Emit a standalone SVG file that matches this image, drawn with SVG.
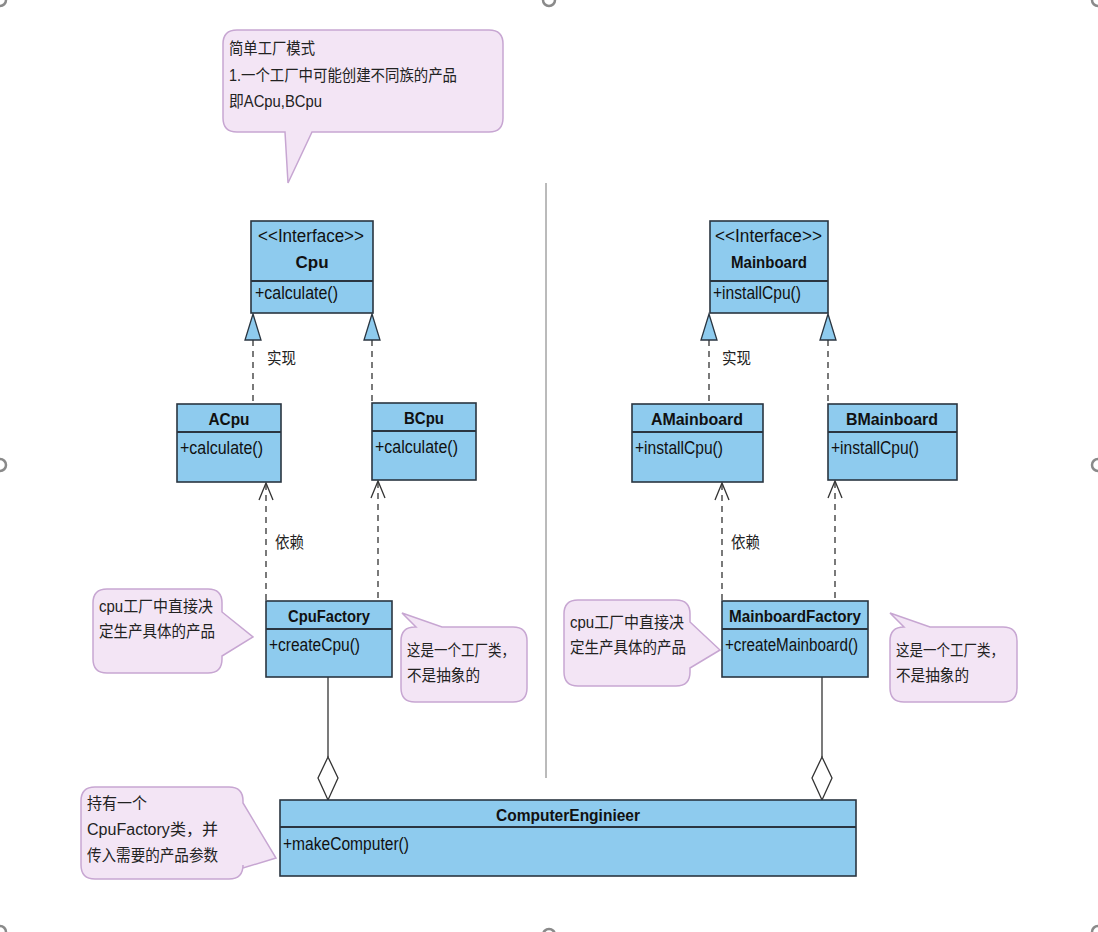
<svg xmlns="http://www.w3.org/2000/svg" width="1098" height="932" viewBox="0 0 1098 932">
<style>
.box{fill:#8ecbee;stroke:#2a3540;stroke-width:1.6}
.sep{stroke:#2a3540;stroke-width:2.2}
.t{font-family:"Liberation Sans","Noto Sans CJK SC",sans-serif;font-size:17.5px;fill:#111}
.b{font-weight:bold;text-anchor:middle;font-size:17px}
.c{font-family:"Liberation Sans","Noto Sans CJK SC",sans-serif;font-size:16px;fill:#222}
.note{fill:#f3e5f5;stroke:#c7a6d2;stroke-width:1.5}
.dash{stroke:#333;stroke-width:1.3;stroke-dasharray:6 5;fill:none}
.solid{stroke:#333;stroke-width:1.3;fill:none}
.tri{fill:#8ecbee;stroke:#2a3540;stroke-width:1.3}
.open{stroke:#333;stroke-width:1.3;fill:none}
.dia{fill:#fff;stroke:#333;stroke-width:1.3}
.h{fill:#fff;stroke:#8a8a8a;stroke-width:2.5}
</style>
<rect width="1098" height="932" fill="#fff"/>
<g id="handles">
<circle class="h" cx="0" cy="0" r="6"/><circle class="h" cx="549" cy="0" r="6"/><circle class="h" cx="1098" cy="0" r="6"/>
<circle class="h" cx="0" cy="465" r="6"/><circle class="h" cx="1098" cy="465" r="6"/>
<circle class="h" cx="0" cy="932" r="6"/><circle class="h" cx="549" cy="935" r="6"/><circle class="h" cx="1098" cy="932" r="6"/>
</g>
<line x1="546" y1="183" x2="546" y2="778" stroke="#777" stroke-width="1"/>
<g id="connectors">
<line class="dash" x1="253" y1="340" x2="253" y2="404"/>
<polygon class="tri" points="253,314 261,340 245,340"/>
<line class="dash" x1="372" y1="340" x2="372" y2="403"/>
<polygon class="tri" points="372,314 380,340 364,340"/>
<line class="dash" x1="709" y1="340" x2="709" y2="404"/>
<polygon class="tri" points="709,314 717,340 701,340"/>
<line class="dash" x1="828" y1="340" x2="828" y2="404"/>
<polygon class="tri" points="828,314 836,340 820,340"/>
<line class="dash" x1="266" y1="484" x2="266" y2="601"/>
<polyline class="open" points="259,500 266,483 273,500"/>
<line class="dash" x1="378" y1="482" x2="378" y2="601"/>
<polyline class="open" points="371,498 378,481 385,498"/>
<line class="dash" x1="722" y1="484" x2="722" y2="601"/>
<polyline class="open" points="715,500 722,483 729,500"/>
<line class="dash" x1="835" y1="482" x2="835" y2="601"/>
<polyline class="open" points="828,498 835,481 842,498"/>
<line class="solid" x1="328" y1="677" x2="328" y2="757"/>
<polygon class="dia" points="328,757 338,778 328,800 318,778"/>
<line class="solid" x1="822" y1="677" x2="822" y2="757"/>
<polygon class="dia" points="822,757 832,778 822,800 812,778"/>
<text class="c" x="267" y="364" textLength="29" lengthAdjust="spacingAndGlyphs">实现</text>
<text class="c" x="275" y="548" textLength="29" lengthAdjust="spacingAndGlyphs">依赖</text>
<text class="c" x="722" y="364" textLength="29" lengthAdjust="spacingAndGlyphs">实现</text>
<text class="c" x="731" y="548" textLength="29" lengthAdjust="spacingAndGlyphs">依赖</text>
</g>
<g id="note-top">
<path class="note" d="M237,30 H489 Q503,30 503,44 V118 Q503,132 489,132 H312 L288,183 L285,132 H237 Q223,132 223,118 V44 Q223,30 237,30 Z"/>
<text class="c" x="229" y="54" textLength="86" lengthAdjust="spacingAndGlyphs">简单工厂模式</text>
<text class="c" x="229" y="81" textLength="228" lengthAdjust="spacingAndGlyphs">1.一个工厂中可能创建不同族的产品</text>
<text class="c" x="229" y="107" textLength="93" lengthAdjust="spacingAndGlyphs">即ACpu,BCpu</text>
</g>
<g id="Cpu">
<rect class="box" x="251" y="221" width="122" height="92"/>
<line class="sep" x1="251" y1="281" x2="373" y2="281"/>
<text class="t" x="258" y="242" textLength="106" lengthAdjust="spacingAndGlyphs">&lt;&lt;Interface&gt;&gt;</text>
<text class="t b" x="312" y="268">Cpu</text>
<text class="t" x="255" y="299" textLength="83" lengthAdjust="spacingAndGlyphs">+calculate()</text>
</g>
<g id="Mainboard">
<rect class="box" x="710" y="221" width="118" height="92"/>
<line class="sep" x1="710" y1="281" x2="828" y2="281"/>
<text class="t" x="715" y="242" textLength="107" lengthAdjust="spacingAndGlyphs">&lt;&lt;Interface&gt;&gt;</text>
<text class="t b" x="769" y="268" textLength="76" lengthAdjust="spacingAndGlyphs">Mainboard</text>
<text class="t" x="713" y="299" textLength="88" lengthAdjust="spacingAndGlyphs">+installCpu()</text>
</g>
<g id="ACpu">
<rect class="box" x="177" y="404" width="104" height="78"/>
<line class="sep" x1="177" y1="432" x2="281" y2="432"/>
<text class="t b" x="229" y="425" textLength="41" lengthAdjust="spacingAndGlyphs">ACpu</text>
<text class="t" x="180" y="454" textLength="83" lengthAdjust="spacingAndGlyphs">+calculate()</text>
</g>
<g id="BCpu">
<rect class="box" x="372" y="403" width="104" height="77"/>
<line class="sep" x1="372" y1="431" x2="476" y2="431"/>
<text class="t b" x="424" y="424" textLength="40" lengthAdjust="spacingAndGlyphs">BCpu</text>
<text class="t" x="375" y="453" textLength="83" lengthAdjust="spacingAndGlyphs">+calculate()</text>
</g>
<g id="AMainboard">
<rect class="box" x="632" y="404" width="131" height="78"/>
<line class="sep" x1="632" y1="432" x2="763" y2="432"/>
<text class="t b" x="697" y="425" textLength="92" lengthAdjust="spacingAndGlyphs">AMainboard</text>
<text class="t" x="635" y="454" textLength="88" lengthAdjust="spacingAndGlyphs">+installCpu()</text>
</g>
<g id="BMainboard">
<rect class="box" x="828" y="404" width="129" height="76"/>
<line class="sep" x1="828" y1="432" x2="957" y2="432"/>
<text class="t b" x="892" y="425" textLength="92" lengthAdjust="spacingAndGlyphs">BMainboard</text>
<text class="t" x="831" y="454" textLength="88" lengthAdjust="spacingAndGlyphs">+installCpu()</text>
</g>
<g id="CpuFactory">
<rect class="box" x="266" y="601" width="126" height="76"/>
<line class="sep" x1="266" y1="629" x2="392" y2="629"/>
<text class="t b" x="329" y="622" textLength="82" lengthAdjust="spacingAndGlyphs">CpuFactory</text>
<text class="t" x="269" y="651" textLength="91" lengthAdjust="spacingAndGlyphs">+createCpu()</text>
</g>
<g id="MainboardFactory">
<rect class="box" x="722" y="601" width="146" height="76"/>
<line class="sep" x1="722" y1="629" x2="868" y2="629"/>
<text class="t b" x="795" y="622" textLength="132" lengthAdjust="spacingAndGlyphs">MainboardFactory</text>
<text class="t" x="725" y="651" textLength="133" lengthAdjust="spacingAndGlyphs">+createMainboard()</text>
</g>
<g id="ComputerEnginieer">
<rect class="box" x="280" y="800" width="576" height="76"/>
<line class="sep" x1="280" y1="827" x2="856" y2="827"/>
<text class="t b" x="568" y="821" textLength="144" lengthAdjust="spacingAndGlyphs">ComputerEnginieer</text>
<text class="t" x="283" y="850" textLength="126" lengthAdjust="spacingAndGlyphs">+makeComputer()</text>
</g>
<g id="note-cpu-left">
<path class="note" d="M107,589 H208 Q222,589 222,603 V612 L253,637 L222,656 V659 Q222,673 208,673 H107 Q93,673 93,659 V603 Q93,589 107,589 Z"/>
<text class="c" x="99" y="612" textLength="114" lengthAdjust="spacingAndGlyphs">cpu工厂中直接决</text>
<text class="c" x="99" y="637" textLength="116" lengthAdjust="spacingAndGlyphs">定生产具体的产品</text>
</g>
<g id="note-cpu-right">
<path class="note" d="M416,627 L402,613 L442,627 H513 Q527,627 527,641 V688 Q527,702 513,702 H415 Q401,702 401,688 V641 Q401,627 415,627 Z"/>
<text class="c" x="407" y="656" textLength="108" lengthAdjust="spacingAndGlyphs">这是一个工厂类，</text>
<text class="c" x="407" y="681" textLength="73" lengthAdjust="spacingAndGlyphs">不是抽象的</text>
</g>
<g id="note-mb-left">
<path class="note" d="M578,600 H676 Q690,600 690,614 V622 L720,650 L690,668 V672 Q690,686 676,686 H578 Q564,686 564,672 V614 Q564,600 578,600 Z"/>
<text class="c" x="570" y="628" textLength="114" lengthAdjust="spacingAndGlyphs">cpu工厂中直接决</text>
<text class="c" x="570" y="653" textLength="116" lengthAdjust="spacingAndGlyphs">定生产具体的产品</text>
</g>
<g id="note-mb-right">
<path class="note" d="M904,627 L890,613 L930,627 H1003 Q1017,627 1017,641 V688 Q1017,702 1003,702 H904 Q890,702 890,688 V641 Q890,627 904,627 Z"/>
<text class="c" x="896" y="656" textLength="108" lengthAdjust="spacingAndGlyphs">这是一个工厂类，</text>
<text class="c" x="896" y="681" textLength="73" lengthAdjust="spacingAndGlyphs">不是抽象的</text>
</g>
<g id="note-engineer">
<path class="note" d="M95,787 H229 Q243,787 243,801 V803 L276,858 L243,868 V865 Q243,879 229,879 H95 Q81,879 81,865 V801 Q81,787 95,787 Z"/>
<text class="c" x="87" y="809" textLength="60" lengthAdjust="spacingAndGlyphs">持有一个</text>
<text class="c" x="87" y="835" textLength="131" lengthAdjust="spacingAndGlyphs">CpuFactory类，并</text>
<text class="c" x="87" y="861" textLength="131" lengthAdjust="spacingAndGlyphs">传入需要的产品参数</text>
</g>
</svg>
